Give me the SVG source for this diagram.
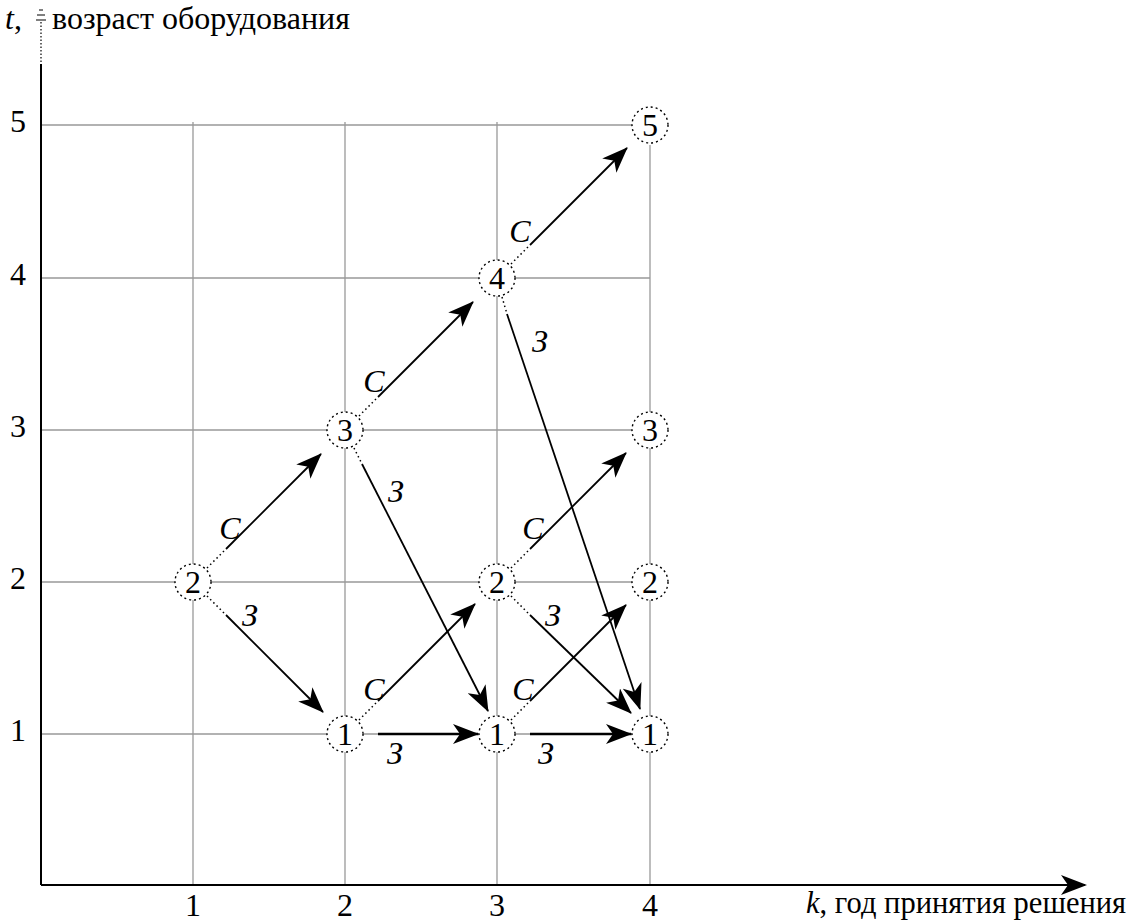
<svg xmlns="http://www.w3.org/2000/svg" width="1132" height="921" viewBox="0 0 1132 921" font-family="Liberation Serif, serif">
<style>
text{font-family:Liberation Serif,serif;font-size:32px}
.grid{stroke:#999;stroke-width:1.3;fill:none}
.axis{stroke:#000;stroke-width:2;fill:none}
.edge{stroke:#000;stroke-width:1.8;fill:none}
.edgeh{stroke:#000;stroke-width:2.6;fill:none}
.dot{stroke:#000;stroke-width:1.5;stroke-dasharray:1.5 3;fill:none}
.node circle{fill:#fff;stroke:#000;stroke-width:1.4;stroke-dasharray:2 3}
.node text{text-anchor:middle}
.tick{text-anchor:middle}
.lbl{font-style:italic;text-anchor:middle}
</style>
<defs>
<marker id="ah" viewBox="0 0 26 20" refX="25" refY="10" markerWidth="26" markerHeight="20" markerUnits="userSpaceOnUse" orient="auto">
<path d="M0,0 L26,10 L0,20 L7,10 z" fill="#000"/>
</marker>
<marker id="ahx" viewBox="0 0 26 20" refX="24" refY="10" markerWidth="26" markerHeight="20" markerUnits="userSpaceOnUse" orient="auto">
<path d="M0,0 L26,10 L0,20 L7,10 z" fill="#000"/>
</marker>
</defs>
<g id="grid">
<line class="grid" x1="41" y1="125" x2="632" y2="125"/>
<line class="grid" x1="41" y1="278" x2="650" y2="278"/>
<line class="grid" x1="41" y1="430" x2="650" y2="430"/>
<line class="grid" x1="41" y1="582" x2="650" y2="582"/>
<line class="grid" x1="41" y1="734" x2="650" y2="734"/>
<line class="grid" x1="193" y1="122" x2="193" y2="885"/>
<line class="grid" x1="345" y1="122" x2="345" y2="885"/>
<line class="grid" x1="497" y1="122" x2="497" y2="885"/>
<line class="grid" x1="650" y1="145" x2="650" y2="885"/>
</g>
<g id="axes">
<line class="axis" x1="41" y1="885" x2="41" y2="64"/>
<line x1="41" y1="62" x2="41" y2="22" stroke="#000" stroke-width="1.2" stroke-dasharray="1.5 2"/>
<path d="M36,20 L46,20 M37,15 L45,15 M39,10 L43,10" stroke="#000" stroke-width="1"/>
<line class="axis" x1="41" y1="885" x2="1085" y2="885" marker-end="url(#ahx)"/>
</g>
<g id="ticks">
<text class="tick" font-family="Liberation Serif" x="193" y="916">1</text>
<text class="tick" font-family="Liberation Serif" x="345" y="916">2</text>
<text class="tick" font-family="Liberation Serif" x="497" y="916">3</text>
<text class="tick" font-family="Liberation Serif" x="650" y="916">4</text>
<text class="tick" font-family="Liberation Serif" x="18" y="132">5</text>
<text class="tick" font-family="Liberation Serif" x="18" y="285">4</text>
<text class="tick" font-family="Liberation Serif" x="18" y="437">3</text>
<text class="tick" font-family="Liberation Serif" x="18" y="589">2</text>
<text class="tick" font-family="Liberation Serif" x="18" y="741">1</text>
<text font-family="Liberation Serif" x="5" y="29"><tspan font-style="italic">t</tspan>,</text>
<text font-family="Liberation Serif" x="52" y="29">возраст оборудования</text>
<text font-family="Liberation Serif" x="806" y="913" style="font-size:30.5px"><tspan font-style="italic">k</tspan>, год принятия решения</text>
</g>
<g id="connectors">
<line class="dot" x1="207" y1="568" x2="226" y2="549"/>
<line class="edge" x1="226" y1="549" x2="321" y2="454" marker-end="url(#ah)"/>
<line class="dot" x1="207" y1="596" x2="226" y2="615"/>
<line class="edge" x1="226" y1="615" x2="323" y2="712" marker-end="url(#ah)"/>
<line class="dot" x1="359" y1="416" x2="378" y2="397"/>
<line class="edge" x1="378" y1="397" x2="473" y2="302" marker-end="url(#ah)"/>
<line class="dot" x1="354" y1="448" x2="362" y2="464"/>
<line class="edge" x1="362" y1="464" x2="488" y2="711" marker-end="url(#ah)"/>
<line class="dot" x1="359" y1="720" x2="378" y2="701"/>
<line class="edge" x1="378" y1="701" x2="475" y2="604" marker-end="url(#ah)"/>
<line class="edgeh" x1="378" y1="734" x2="478" y2="734" marker-end="url(#ah)"/>
<line class="dot" x1="511" y1="264" x2="530" y2="245"/>
<line class="edge" x1="530" y1="245" x2="627" y2="148" marker-end="url(#ah)"/>
<line class="dot" x1="502" y1="297" x2="507" y2="314"/>
<line class="edge" x1="507" y1="314" x2="640" y2="709" marker-end="url(#ah)"/>
<line class="dot" x1="511" y1="568" x2="530" y2="549"/>
<line class="edge" x1="530" y1="549" x2="626" y2="453" marker-end="url(#ah)"/>
<line class="dot" x1="511" y1="596" x2="530" y2="615"/>
<line class="edge" x1="530" y1="615" x2="631" y2="713" marker-end="url(#ah)"/>
<line class="dot" x1="511" y1="720" x2="530" y2="701"/>
<line class="edge" x1="530" y1="701" x2="626" y2="605" marker-end="url(#ah)"/>
<line class="edgeh" x1="530" y1="734" x2="631" y2="734" marker-end="url(#ah)"/>
<text class="lbl" font-family="Liberation Serif" x="230" y="539">С</text>
<text class="lbl" font-family="Liberation Serif" x="250" y="626">З</text>
<text class="lbl" font-family="Liberation Serif" x="374" y="392">С</text>
<text class="lbl" font-family="Liberation Serif" x="396" y="502">З</text>
<text class="lbl" font-family="Liberation Serif" x="374" y="700">С</text>
<text class="lbl" font-family="Liberation Serif" x="395" y="764">З</text>
<text class="lbl" font-family="Liberation Serif" x="520" y="242">С</text>
<text class="lbl" font-family="Liberation Serif" x="540" y="352">З</text>
<text class="lbl" font-family="Liberation Serif" x="533" y="539">С</text>
<text class="lbl" font-family="Liberation Serif" x="553" y="626">З</text>
<text class="lbl" font-family="Liberation Serif" x="523" y="700">С</text>
<text class="lbl" font-family="Liberation Serif" x="546" y="764">З</text>
</g>
<g id="n12" class="node"><circle cx="193" cy="582" r="18"/><text font-family="Liberation Serif" x="193" y="593">2</text></g>
<g id="n21" class="node"><circle cx="345" cy="734" r="18"/><text font-family="Liberation Serif" x="345" y="745">1</text></g>
<g id="n23" class="node"><circle cx="345" cy="430" r="18"/><text font-family="Liberation Serif" x="345" y="441">3</text></g>
<g id="n31" class="node"><circle cx="497" cy="734" r="18"/><text font-family="Liberation Serif" x="497" y="745">1</text></g>
<g id="n32" class="node"><circle cx="497" cy="582" r="18"/><text font-family="Liberation Serif" x="497" y="593">2</text></g>
<g id="n34" class="node"><circle cx="497" cy="278" r="18"/><text font-family="Liberation Serif" x="497" y="289">4</text></g>
<g id="n41" class="node"><circle cx="650" cy="734" r="18"/><text font-family="Liberation Serif" x="650" y="745">1</text></g>
<g id="n42" class="node"><circle cx="650" cy="582" r="18"/><text font-family="Liberation Serif" x="650" y="593">2</text></g>
<g id="n43" class="node"><circle cx="650" cy="430" r="18"/><text font-family="Liberation Serif" x="650" y="441">3</text></g>
<g id="n45" class="node"><circle cx="650" cy="125" r="18"/><text font-family="Liberation Serif" x="650" y="136">5</text></g>
</svg>
